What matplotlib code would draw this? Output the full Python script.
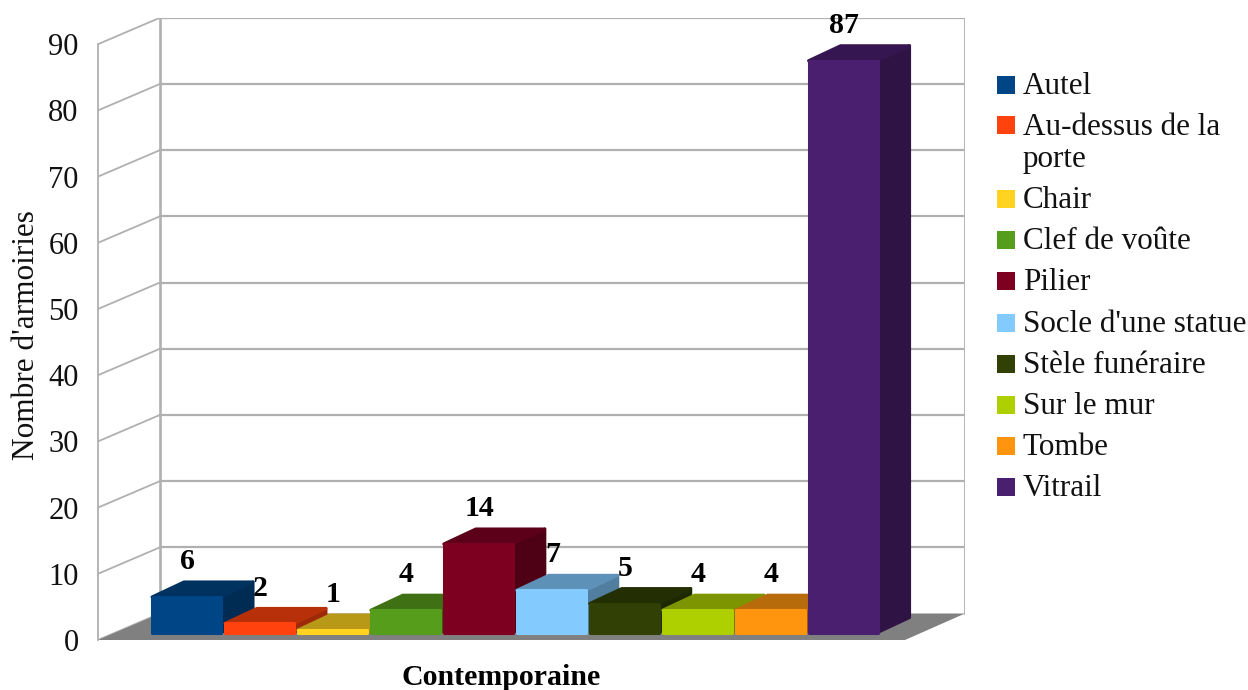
import numpy as np
import matplotlib
matplotlib.use("Agg")
import matplotlib.pyplot as plt
from matplotlib.patches import Polygon, Rectangle
from matplotlib.legend_handler import HandlerPatch
from matplotlib.colors import to_rgb

# ---- data ----
categories = ["Autel", "Au-dessus de la\nporte", "Chair", "Clef de voûte", "Pilier",
              "Socle d'une statue", "Stèle funéraire", "Sur le mur", "Tombe", "Vitrail"]
values = [6, 2, 1, 4, 14, 7, 5, 4, 4, 87]
colors = ["#004586", "#FF420E", "#FFD320", "#579D1C", "#7E0021",
          "#83CAFF", "#314004", "#AECF00", "#FF950E", "#4B1F6F"]
group_label = ["Contemporaine"]
y_ticks = [0, 10, 20, 30, 40, 50, 60, 70, 80, 90]
y_title = "Nombre d'armoiries"

# ---- layout ----
W, H = 1248, 690
PITCH, UNIT = 72.95, 6.62     # px per category, px per value unit
AX_L, AX_R, AX_B, AX_T = 98, 965, 640, 18
X0 = 186.5                    # px of first category centre
plt.rcParams['font.family'] = ['Liberation Serif', 'DejaVu Serif']

fig = plt.figure(figsize=(W / 100, H / 100), dpi=100)
ax = fig.add_axes([AX_L / W, 1 - AX_B / H, (AX_R - AX_L) / W, (AX_B - AX_T) / H])
ax.set_xlim((AX_L - X0) / PITCH, (AX_R - X0) / PITCH)
ax.set_ylim(0, (AX_B - AX_T) / UNIT)
ax.patch.set_visible(False)

# depth of the walls and bars, in data units
wall_dx, wall_dy = 62 / PITCH, 26.5 / UNIT
floor_dx = 60 / PITCH
bar_dx, bar_dy = 32 / PITCH, 15 / UNIT
bar_w = 69 / PITCH
base = 7.5 / UNIT
lift = 0.5
xl = ax.get_xlim()[0]
xr = ax.get_xlim()[1]
GRID = "#b0b0b0"

# floor
ax.add_patch(Polygon([(xl, 0), (xr - floor_dx, 0), (xr, wall_dy), (xl + wall_dx, wall_dy)],
                     closed=True, fc="#808080", ec="none", zorder=1))
# walls
for v in y_ticks:
    ax.plot([xl, xl + wall_dx], [v, v + wall_dy], color=GRID, lw=1.3, zorder=0.5)
    if v:
        ax.plot([xl + wall_dx, xr], [v + wall_dy, v + wall_dy], color=GRID, lw=1.6, zorder=0.5)
ax.plot([xl + wall_dx] * 2, [wall_dy, y_ticks[-1] + wall_dy], color=GRID, lw=1.9, zorder=0.5)
ax.plot([xr, xr], [wall_dy, y_ticks[-1] + wall_dy], color=GRID, lw=1.3, zorder=0.5)


def shade(c, f):
    return tuple(np.array(to_rgb(c)) * f)


for i, (v, c) in enumerate(zip(values, colors)):
    a, b = i - bar_w / 2, i + bar_w / 2
    top = v + lift
    z = 2 + i
    kw = dict(closed=True, lw=2.2, joinstyle='round', zorder=z)
    ax.add_patch(Polygon([(b, base), (b + bar_dx, base + bar_dy), (b + bar_dx, top + bar_dy), (b, top)],
                         fc=shade(c, .62), ec=shade(c, .62), **kw))
    ax.add_patch(Polygon([(a, top), (b, top), (b + bar_dx, top + bar_dy), (a + bar_dx, top + bar_dy)],
                         fc=shade(c, .72), ec=shade(c, .72), **kw))
    ax.add_patch(Polygon([(a, base), (b, base), (b, top), (a, top)],
                         fc=c, ec=c, **kw))
    ax.annotate(str(v), (i, top), xytext=(0.8, 25.5), textcoords='offset points',
                ha='center', va='center', fontsize=21.5, fontweight='bold',
                color='black', zorder=30)

# axes
for s in ('top', 'right', 'bottom'):
    ax.spines[s].set_visible(False)
ax.spines['left'].set_bounds(0, y_ticks[-1])
ax.spines['left'].set_color(GRID)
ax.spines['left'].set_linewidth(1.3)
ax.set_yticks(y_ticks)
ax.tick_params(axis='y', length=0, pad=14, labelsize=22, labelcolor='#111111')
ax.set_xticks([(501 - X0) / PITCH])
ax.set_xticklabels(group_label, fontsize=21.5, fontweight='bold')
ax.tick_params(axis='x', length=0, pad=17)
ax.set_ylabel(y_title, fontsize=22.5, color='#111111', va='center')
ax.yaxis.set_label_coords((27 - AX_L) / (AX_R - AX_L), (AX_B - 335) / (AX_B - AX_T))


# legend: the swatch of a wrapped label sits on its first line
class Swatch(HandlerPatch):
    def create_artists(self, legend, orig, xd, yd, w, h, fontsize, trans):
        up = 21 if orig.get_label().count("\n") else 0
        r = Rectangle((-xd, -yd + up * 72 / 100 - 1), w, w, fc=orig.get_facecolor(), ec='none',
                      transform=trans)
        return [r]


handles = [Rectangle((0, 0), 1, 1, fc=c, label=n) for n, c in zip(categories, colors)]
leg = fig.legend(handles=handles, loc='upper left', bbox_to_anchor=(997 / W, 1 - 72 / H),
                 borderaxespad=0, borderpad=0, frameon=False, fontsize=22.4,
                 handlelength=0.58, handleheight=0.58, handletextpad=0.25, labelspacing=0.39,
                 handler_map={Rectangle: Swatch()})
for t in leg.get_texts():
    t.set_color('#111111')
    t.set_linespacing(1.13)

fig.savefig("out.png", dpi=100)
